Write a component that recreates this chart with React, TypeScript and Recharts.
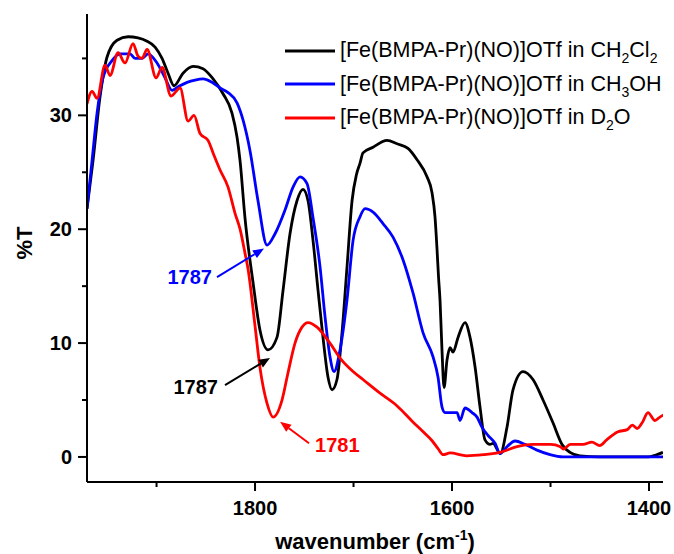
import { LineChart, Line, XAxis, YAxis, Legend, ReferenceLine, ReferenceDot } from "recharts";

// IR spectra, [wavenumber, %T]
const CH2CL2: [number, number][] = [
  [1970.6, 21.8], [1964.5, 26], [1957.4, 31.6], [1950.3, 35.1], [1940.1, 36.6], [1928.9, 36.9],
  [1918.8, 36.8], [1909.6, 36.5], [1901.5, 36.0], [1894.4, 35.0], [1888.3, 33.7], [1882.2, 32.6],
  [1873.1, 33.7], [1862.9, 34.3], [1852.8, 34.1], [1842.6, 33.2], [1832.5, 31.9], [1823.4, 30.2],
  [1818.3, 28.1], [1815.2, 26], [1810.2, 21.0], [1802, 15.3], [1794.9, 11.1], [1786.8, 9.4],
  [1777.7, 10.5], [1771.6, 14.6], [1764.5, 19.6], [1757.4, 22.5], [1751.3, 23.5], [1746.2, 22.5],
  [1741.1, 19], [1736, 14.6], [1731, 10.5], [1725.9, 7.0], [1721.8, 5.9], [1716.8, 6.8],
  [1711.7, 10.9], [1706.6, 16.7], [1701.5, 22.5], [1697, 24.8], [1693.4, 25.8], [1690.4, 26.7],
  [1680.2, 27.2], [1666, 27.8], [1655.8, 27.5], [1644.7, 27.1], [1635.5, 26.1], [1625.4, 24.6],
  [1620.3, 23.2], [1617.3, 21.1], [1615.2, 18.2], [1613.7, 15.8], [1612.2, 13.8], [1610.2, 9.4],
  [1608.1, 6.1], [1605.1, 8.5], [1602, 9.6], [1599, 9.2], [1593.9, 10.5], [1586.8, 11.8],
  [1581.7, 10.5], [1576.6, 7.9], [1571.6, 4.4], [1566.5, 1.5], [1561.4, 1.1], [1558.4, 1.2],
  [1551, 0.3], [1544.2, 2.6], [1538.1, 5.9], [1527.9, 7.5], [1517.8, 6.8], [1507.6, 5.0],
  [1497.5, 3.0], [1488.3, 1.1], [1480.2, 0.4], [1470.1, 0.1], [1449.7, 0], [1402, 0],
  [1391.9, 0.2], [1385.8, 0.4],
];

const CH3OH: [number, number][] = [
  [1970.6, 21.8], [1965.5, 26], [1960.4, 30.2], [1954.3, 33.3], [1945.2, 34.8], [1937.1, 35.4],
  [1926.9, 35.4], [1921.8, 35.0], [1914.7, 35.0], [1908.6, 35.4], [1899.5, 34.6], [1891.4, 33.3],
  [1884.3, 32.2], [1878.2, 32.5], [1869, 32.9], [1860.9, 33.1], [1852.8, 33.2], [1843.7, 32.9],
  [1835.5, 32.4], [1827.4, 32.0], [1818.3, 31.1], [1812.2, 29.6], [1805.1, 26.9], [1797, 22.5],
  [1787.8, 18.6], [1779.7, 19.6], [1769.5, 21.7], [1761.4, 23.7], [1754.3, 24.6], [1747.2, 24],
  [1741.1, 21], [1734, 16.7], [1728.9, 12.3], [1723.9, 8.8], [1719.8, 7.5], [1713.7, 9.4],
  [1706.6, 13.8], [1700.5, 19], [1693.4, 21.1], [1688.3, 21.8], [1680.2, 21.5], [1670.1, 20.5],
  [1659.9, 19.3], [1649.7, 17.3], [1639.6, 14.4], [1629.4, 10.9], [1619.3, 8.8], [1614.2, 7.0],
  [1610.2, 4.4], [1607.1, 3.9], [1600, 3.9], [1594.9, 3.9], [1591.9, 3.2], [1586.8, 4.3],
  [1579.7, 3.9], [1574.6, 3.5], [1569.5, 2.6], [1563.5, 1.9], [1556.3, 1.2], [1551.3, 0.3],
  [1544.2, 0.9], [1536, 1.4], [1525.9, 1.1], [1513.7, 0.6], [1500.5, 0.2], [1487.3, 0],
  [1385.8, 0],
];

const D2O: [number, number][] = [
  [1970.6, 31.0], [1965.5, 32.1], [1960.4, 31.5], [1952.3, 34.4], [1947.2, 33.5], [1939.1, 35.5],
  [1932, 34.6], [1923.9, 36.3], [1918.8, 35.2], [1914.7, 35.0], [1909.6, 35.8], [1900.5, 33.3],
  [1894.4, 34.2], [1885.3, 31.7], [1876.1, 32.4], [1868, 29.5], [1861.9, 30.0], [1855.8, 28.4],
  [1847.7, 27.8], [1842.6, 26.7], [1835.5, 25.2], [1827.4, 23.7], [1820.3, 21.4], [1815.2, 20.0],
  [1810.2, 17.9], [1807.1, 16.5], [1800, 11.5], [1794.9, 7.8], [1787.8, 4.7], [1781.7, 3.5],
  [1772.6, 5.0], [1766.5, 7.4], [1759.4, 10.0], [1752.3, 11.4], [1746.2, 11.8], [1737.1, 11.4],
  [1724, 10.0], [1712, 8.5], [1700.5, 7.5], [1690.4, 6.8], [1673.1, 5.6], [1656, 4.5],
  [1640, 3.1], [1628, 2.1], [1620, 1.4], [1614, 0.7], [1609, 0.2], [1602, 0.35], [1585, 0.1],
  [1568, 0.2], [1551, 0.4], [1534, 0.9], [1518, 1.1], [1500, 1.1], [1490, 0.9], [1487, 0.7],
  [1480, 1.1], [1467, 1.1], [1458, 1.3], [1450, 1.0], [1443, 1.5], [1432, 2.2], [1422, 2.4],
  [1417, 2.8], [1412, 2.5], [1407, 3.0], [1401, 3.9], [1394, 3.2], [1389, 3.5], [1385, 3.7],
];

const X_TICKS = [1400, 1500, 1600, 1700, 1800, 1900];
const X_LABELLED = [1400, 1600, 1800];
const Y_TICKS = [0, 5, 10, 15, 20, 25, 30, 35];
const Y_LABELLED = [0, 10, 20, 30];

const SERIES = [
  { key: "ch2cl2", color: "#000000", data: CH2CL2, solvent: [["CH", false], ["2", true], ["Cl", false], ["2", true]] },
  { key: "ch3oh", color: "#0000ff", data: CH3OH, solvent: [["CH", false], ["3", true], ["OH", false]] },
  { key: "d2o", color: "#ff0000", data: D2O, solvent: [["D", false], ["2", true], ["O", false]] },
];

// peak labels: text position, arrow tail, arrow tip (data coords)
const ANNOTATIONS = [
  { text: "1787", color: "#0000ff", anchor: "end", at: [1843.7, 15.2], from: [1838.6, 15.8], to: [1790.9, 18.3] },
  { text: "1787", color: "#000000", anchor: "end", at: [1837.6, 5.5], from: [1830.5, 6.3], to: [1784.8, 8.7] },
  { text: "1781", color: "#ff0000", anchor: "start", at: [1739.1, 0.45], from: [1745.2, 1.2], to: [1774.6, 3.1] },
];

const FONT = "'Liberation Sans', Arial, Helvetica, sans-serif";

const XTick = ({ x, y, payload }: any) => {
  const major = X_LABELLED.includes(payload.value);
  return (
    <g>
      <line x1={x} y1={y} x2={x} y2={y + (major ? 9 : 5)} stroke="#000" strokeWidth={2} />
      {major && (
        <text x={x} y={y + 33} textAnchor="middle" fontSize={20} fontWeight="bold" fill="#000">
          {payload.value}
        </text>
      )}
    </g>
  );
};

const YTick = ({ x, y, payload }: any) => {
  const major = Y_LABELLED.includes(payload.value);
  return (
    <g>
      <line x1={x - (major ? 9 : 5)} y1={y} x2={x} y2={y} stroke="#000" strokeWidth={2} />
      {major && (
        <text x={x - 15} y={y + 7} textAnchor="end" fontSize={20} fontWeight="bold" fill="#000">
          {payload.value}
        </text>
      )}
    </g>
  );
};

const Arrow = ({ x1, y1, x2, y2, color }: any) => {
  const ang = Math.atan2(y2 - y1, x2 - x1);
  const len = 11;
  const w = 4.5;
  const bx = x2 - len * Math.cos(ang);
  const by = y2 - len * Math.sin(ang);
  const px = -Math.sin(ang) * w;
  const py = Math.cos(ang) * w;
  return (
    <g>
      <line x1={x1} y1={y1} x2={bx} y2={by} stroke={color} strokeWidth={2} />
      <polygon points={`${x2},${y2} ${bx + px},${by + py} ${bx - px},${by - py}`} fill={color} />
    </g>
  );
};

const renderLegend = () => (
  <div style={{ fontFamily: FONT, fontSize: 21.5, color: "#000" }}>
    {SERIES.map((s) => (
      <div key={s.key} style={{ display: "flex", alignItems: "center", height: 33.5, whiteSpace: "nowrap" }}>
        <svg width={55} height={10}>
          <line x1={0} y1={5} x2={50} y2={5} stroke={s.color} strokeWidth={3} />
        </svg>
        <span>
          [Fe(BMPA-Pr)(NO)]OTf in{" "}
          {s.solvent.map(([t, sub], i) =>
            sub ? (
              <span key={i} style={{ fontSize: 14, position: "relative", top: 6 }}>{t as string}</span>
            ) : (
              <span key={i}>{t as string}</span>
            )
          )}
        </span>
      </div>
    ))}
  </div>
);

export default function App() {
  return (
    <div style={{ position: "absolute", left: 0, top: 0, background: "#fff" }}>
      <LineChart
        width={674}
        height={554}
        margin={{ top: 14, right: 11, bottom: 0, left: 0 }}
        style={{ fontFamily: FONT }}
      >
        <XAxis
          type="number"
          dataKey="0"
          reversed
          domain={[1385.8, 1970.6]}
          allowDataOverflow
          ticks={X_TICKS}
          tick={<XTick />}
          tickLine={false}
          tickSize={0}
          tickMargin={0}
          interval={0}
          height={72}
          axisLine={{ stroke: "#000", strokeWidth: 2 }}
          label={{
            content: ({ viewBox }: any) => (
              <text x={viewBox.x + viewBox.width / 2} y={viewBox.y + 67} textAnchor="middle" fontSize={22} fontWeight="bold" fill="#000">
                <tspan>wavenumber (cm</tspan>
                <tspan dy={-9} fontSize={14}>-1</tspan>
                <tspan dy={9}>)</tspan>
              </text>
            ),
          }}
        />
        <YAxis
          type="number"
          domain={[-2.2, 38.9]}
          allowDataOverflow
          ticks={Y_TICKS}
          tick={<YTick />}
          tickLine={false}
          tickSize={0}
          tickMargin={0}
          interval={0}
          width={87}
          axisLine={{ stroke: "#000", strokeWidth: 2 }}
          label={{
            content: ({ viewBox }: any) => {
              const cx = 32;
              const cy = viewBox.y + viewBox.height / 2 - 5;
              return (
                <text x={cx} y={cy} transform={`rotate(-90, ${cx}, ${cy})`} textAnchor="middle" fontSize={22} fontWeight="bold" fill="#000">
                  %T
                </text>
              );
            },
          }}
        />
        {SERIES.map((s) => (
          <Line
            key={s.key}
            data={s.data}
            dataKey="1"
            type="monotone"
            stroke={s.color}
            strokeWidth={2.8}
            dot={false}
            activeDot={false}
            isAnimationActive={false}
          />
        ))}
        {ANNOTATIONS.map((a, i) => (
          <ReferenceLine
            key={`arr-${i}`}
            segment={[{ x: a.from[0], y: a.from[1] }, { x: a.to[0], y: a.to[1] }]}
            shape={(p: any) => <Arrow {...p} color={a.color} />}
          />
        ))}
        {ANNOTATIONS.map((a, i) => (
          <ReferenceDot
            key={`txt-${i}`}
            x={a.at[0]}
            y={a.at[1]}
            r={0}
            shape={(p: any) => (
              <text x={p.cx} y={p.cy} textAnchor={a.anchor} fontSize={20} fontWeight="bold" fill={a.color}>
                {a.text}
              </text>
            )}
          />
        ))}
        <Legend
          layout="vertical"
          align="center"
          verticalAlign="middle"
          wrapperStyle={{ top: 34, left: 285, width: 389 }}
          content={renderLegend}
        />
      </LineChart>
    </div>
  );
}
